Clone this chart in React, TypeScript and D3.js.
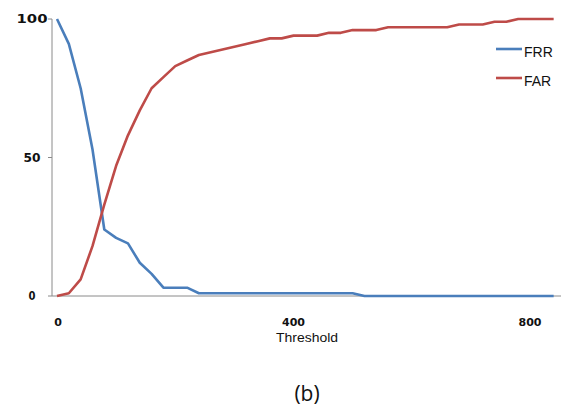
import React from "react";
import * as d3 from "d3";

const thresholds: number[] = [
  0, 20, 40, 60, 80, 100, 120, 140, 160, 180, 200, 220, 240, 260, 280, 300, 320, 340, 360, 380, 400,
  420, 440, 460, 480, 500, 520, 540, 560, 580, 600, 620, 640, 660, 680, 700, 720, 740, 760, 780, 800,
  820, 840,
];
const frr: number[] = [
  100, 91, 75, 53, 24, 21, 19, 12, 8, 3, 3, 3, 1, 1, 1, 1, 1, 1, 1, 1, 1,
  1, 1, 1, 1, 1, 0, 0, 0, 0, 0, 0, 0, 0, 0, 0, 0, 0, 0, 0, 0,
  0, 0,
];
const far: number[] = [
  0, 1, 6, 18, 33, 47, 58, 67, 75, 79, 83, 85, 87, 88, 89, 90, 91, 92, 93, 93, 94,
  94, 94, 95, 95, 96, 96, 96, 97, 97, 97, 97, 97, 97, 98, 98, 98, 99, 99, 100, 100,
  100, 100,
];
const yTicks: number[] = [0, 50, 100];
const xTicks: number[] = [0, 400, 800];
const seriesNames: string[] = ["FRR", "FAR"];
const seriesColors: string[] = ["#4a7ebb", "#be4b48"];
const xTitle = "Threshold";
const caption = "(b)";

export default function App() {
  const W = 563;
  const H = 413;
  const x = d3.scaleLinear().domain([0, 800]).range([57, 530]);
  const y = d3.scaleLinear().domain([0, 100]).range([296, 19]);
  const axisLeft = 52;
  const axisRight = 561;

  const line = d3
    .line<number>()
    .x((_, i) => x(thresholds[i]))
    .y((d) => y(d));

  const series = [frr, far];
  const yLabelLen: Record<number, number> = { 0: 7, 50: 17, 100: 31 };

  return (
    <svg
      width={W}
      height={H}
      style={{ position: "absolute", left: 0, top: 0, background: "#fff" }}
    >
      {/* y axis */}
      <line x1={axisLeft} x2={axisLeft} y1={y(100)} y2={y(0)} stroke="#8a8a8a" strokeWidth={1} />
      {yTicks.map((t) => (
        <g key={t}>
          <line x1={axisLeft - 4} x2={axisLeft} y1={y(t)} y2={y(t)} stroke="#8a8a8a" strokeWidth={1} />
          <text
            x={32}
            y={y(t)}
            dy="0.36em"
            textAnchor="middle"
            fontFamily="DejaVu Sans"
            fontWeight="bold"
            fontSize={12}
            fill="#111"
            textLength={yLabelLen[t]}
            lengthAdjust="spacingAndGlyphs"
          >
            {t}
          </text>
        </g>
      ))}
      {/* x axis */}
      <line x1={axisLeft} x2={axisRight} y1={y(0)} y2={y(0)} stroke="#8a8a8a" strokeWidth={1} />
      {xTicks.map((t) => (
        <text
          key={t}
          x={x(t) + (t === 0 ? 1 : 0)}
          y={326}
          textAnchor="middle"
          fontFamily="DejaVu Sans"
          fontWeight="bold"
          fontSize={11}
          fill="#111"
        >
          {t}
        </text>
      ))}
      <text
        x={307}
        y={342}
        textAnchor="middle"
        fontFamily="Liberation Sans, Arial"
        fontSize={13}
        fill="#111"
        textLength={62}
        lengthAdjust="spacingAndGlyphs"
      >
        {xTitle}
      </text>

      {/* series */}
      {series.map((s, i) => (
        <path
          key={seriesNames[i]}
          d={line(s) || ""}
          fill="none"
          stroke={seriesColors[i]}
          strokeWidth={2.6}
          strokeLinejoin="round"
          strokeLinecap="butt"
        />
      ))}

      {/* legend */}
      {seriesNames.map((n, i) => (
        <g key={n} transform={`translate(496, ${49 + i * 29})`}>
          <line x1={0} x2={26} y1={0} y2={0} stroke={seriesColors[i]} strokeWidth={2.6} />
          <text x={28} y={7.5} fontFamily="Liberation Sans, Arial" fontSize={14} fill="#111">
            {n}
          </text>
        </g>
      ))}

      {/* caption */}
      <text
        x={307}
        y={401}
        textAnchor="middle"
        fontFamily="Open Sans, Noto Sans"
        fontSize={21}
        fill="#111"
      >
        {caption}
      </text>
    </svg>
  );
}
